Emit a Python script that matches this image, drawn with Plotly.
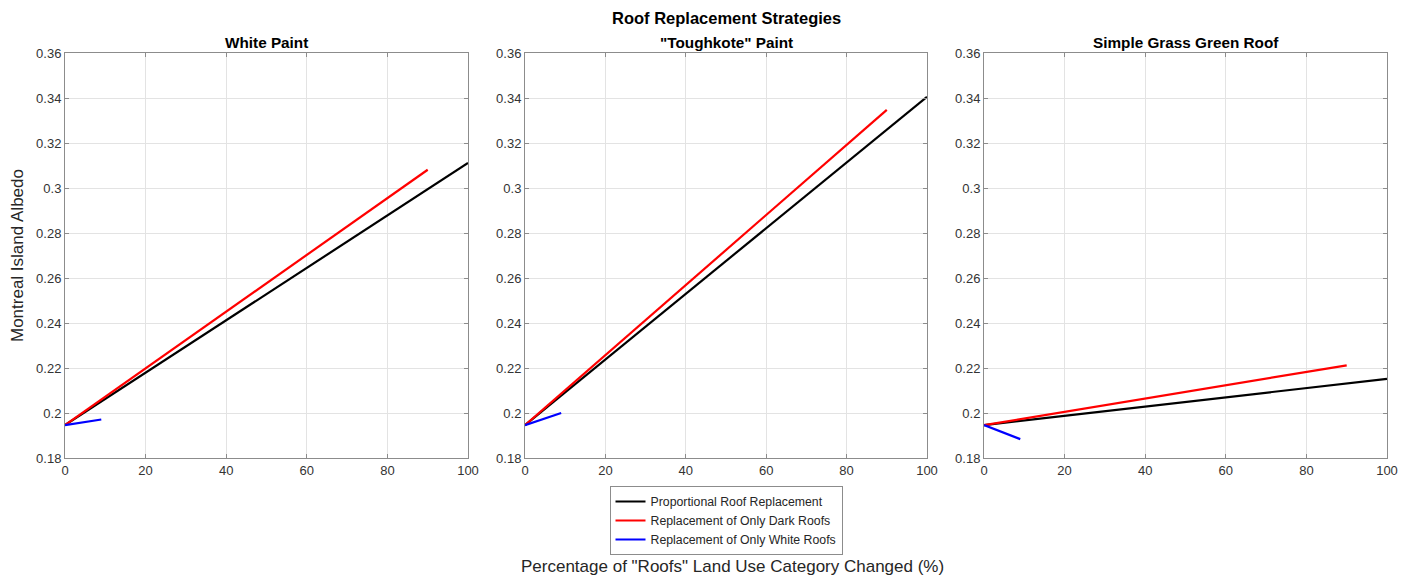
import plotly.graph_objects as go
from plotly.subplots import make_subplots

# ---- data ----
panel_titles = ["White Paint", "\"Toughkote\" Paint", "Simple Grass Green Roof"]
series_names = ["Proportional Roof Replacement",
                "Replacement of Only Dark Roofs",
                "Replacement of Only White Roofs"]
series_colors = ["#000000", "#ff0000", "#0000ff"]

prop_x = [0, 100]
dark_x = [0, 90]
white_x = [0, 9]

prop_y = [[0.1946, 0.3111], [0.1946, 0.3405], [0.1946, 0.2152]]
dark_y = [[0.1946, 0.3081], [0.1946, 0.3347], [0.1946, 0.2212]]
white_y = [[0.1946, 0.1971], [0.1946, 0.2000], [0.1946, 0.1884]]

x_ticks = [0, 20, 40, 60, 80, 100]
x_ticklabels = ["0", "20", "40", "60", "80", "100"]
y_ticks = [0.18, 0.20, 0.22, 0.24, 0.26, 0.28, 0.30, 0.32, 0.34, 0.36]
y_ticklabels = ["0.18", "0.2", "0.22", "0.24", "0.26", "0.28", "0.3", "0.32", "0.34", "0.36"]

W, H = 1403, 578
FONT = "Liberation Sans, Arial, Helvetica, sans-serif"

fig = make_subplots(rows=1, cols=3)

xdomains = [(65, 468), (525, 927), (984, 1387)]
ytop, ybot = 53, 458

for i in range(3):
    xs_list = [prop_x, dark_x, white_x]
    ys_list = [prop_y[i], dark_y[i], white_y[i]]
    for k in range(3):
        fig.add_trace(go.Scatter(
            x=xs_list[k], y=ys_list[k], mode="lines",
            line=dict(color=series_colors[k], width=2.2),
            name=series_names[k], showlegend=(i == 0)),
            row=1, col=i + 1)

axis_common = dict(
    showline=True, linecolor="#8c8c8c", linewidth=1, mirror="ticks",
    ticks="inside", ticklen=4, tickcolor="#8c8c8c",
    showgrid=True, gridcolor="#e3e3e3", gridwidth=1, zeroline=False,
    automargin=False,
    tickfont=dict(family=FONT, size=13, color="#333333"),
)

for i in range(3):
    xa = "xaxis" if i == 0 else f"xaxis{i+1}"
    ya = "yaxis" if i == 0 else f"yaxis{i+1}"
    d0, d1 = xdomains[i]
    fig.layout[xa].update(domain=[d0 / W, d1 / W], range=[0, 100],
                          tickvals=x_ticks, ticktext=x_ticklabels, **axis_common)
    fig.layout[ya].update(domain=[1 - ybot / H, 1 - ytop / H], range=[0.18, 0.36],
                          tickvals=y_ticks, ticktext=y_ticklabels, **axis_common)
    fig.add_annotation(text="<b>" + panel_titles[i] + "</b>", xref="paper", yref="paper",
                       x=(d0 + d1) / 2 / W, y=1 - 42 / H, showarrow=False,
                       font=dict(family=FONT, size=15.3, color="#000000"),
                       xanchor="center", yanchor="middle")

fig.add_annotation(text="<b>Roof Replacement Strategies</b>", xref="paper", yref="paper",
                   x=726 / W, y=1 - 18 / H, showarrow=False,
                   font=dict(family=FONT, size=16.5, color="#000000"),
                   xanchor="center", yanchor="middle")
fig.add_annotation(text="Montreal Island Albedo", xref="paper", yref="paper",
                   x=17 / W, y=1 - 256 / H, showarrow=False, textangle=-90,
                   font=dict(family=FONT, size=17, color="#262626"),
                   xanchor="center", yanchor="middle")
fig.add_annotation(text="Percentage of \"Roofs\" Land Use Category Changed (%)",
                   xref="paper", yref="paper",
                   x=732 / W, y=1 - 566 / H, showarrow=False,
                   font=dict(family=FONT, size=17, color="#262626"),
                   xanchor="center", yanchor="middle")

fig.update_layout(
    width=W, height=H,
    margin=dict(l=0, r=0, t=0, b=0, autoexpand=False),
    paper_bgcolor="white", plot_bgcolor="white",
    showlegend=True,
    legend=dict(x=726 / W, y=1 - 486 / H, xanchor="center", yanchor="top",
                bgcolor="white", bordercolor="#8c8c8c", borderwidth=1,
                font=dict(family=FONT, size=12.3, color="#262626"),
                tracegroupgap=0, itemwidth=30),
)

fig.write_html("out.html",
               config={"displayModeBar": False},
               post_script="document.body.style.margin='0';document.body.style.padding='0';"
                           "document.body.style.overflow='hidden';")
